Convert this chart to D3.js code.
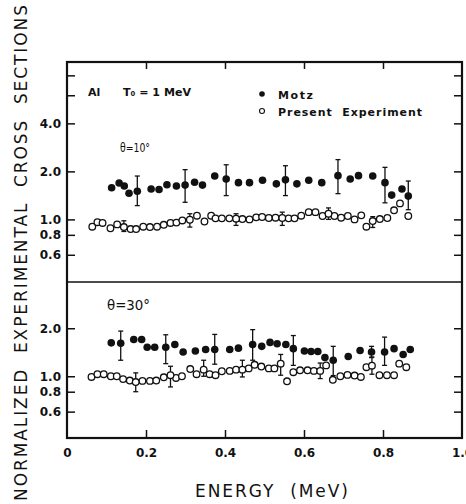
<!DOCTYPE html>
<html>
<head>
<meta charset="utf-8">
<script src="https://cdn.jsdelivr.net/npm/d3@7"></script>
<style>
  body { margin: 0; background: #fff; }
  svg { display: block; }
  text { font-family: "DejaVu Sans", sans-serif; fill: #111; }
</style>
</head>
<body>
<svg id="chart" width="466" height="504"></svg>
<script>
// energy (MeV), normalized cross section
var motz10 = [[0.113,1.58],[0.132,1.69],[0.145,1.62],[0.157,1.46],[0.213,1.55],[0.233,1.54],[0.253,1.65],
  [0.277,1.62],[0.323,1.71],[0.343,1.64],[0.374,1.87],[0.434,1.70],[0.462,1.70],[0.495,1.76],[0.530,1.67],
  [0.582,1.67],[0.612,1.76],[0.645,1.70],[0.717,1.79],[0.738,1.88],[0.774,1.87],[0.822,1.42],[0.848,1.55]];
// energy, value, low, high
var motz10Err = [[0.178,1.50,1.22,1.87],[0.299,1.64,1.28,2.05],[0.403,1.79,1.41,2.20],[0.553,1.77,1.41,2.17],
  [0.686,1.88,1.45,2.37],[0.805,1.70,1.27,2.12],[0.864,1.40,1.15,1.74]];
var exp10 = [[0.064,0.90],[0.077,0.96],[0.090,0.95],[0.110,0.88],[0.127,0.93],[0.161,0.87],[0.175,0.87],
  [0.193,0.90],[0.210,0.895],[0.228,0.90],[0.245,0.925],[0.262,0.95],[0.277,0.955],[0.292,0.985],[0.329,1.055],
  [0.348,0.97],[0.365,1.055],[0.376,1.015],[0.392,1.015],[0.411,1.015],[0.444,1.005],[0.462,1.00],[0.479,1.03],
  [0.494,1.035],[0.511,1.02],[0.528,1.025],[0.561,1.015],[0.576,1.015],[0.593,1.055],[0.612,1.11],[0.629,1.11],
  [0.647,1.05],[0.677,1.05],[0.694,1.025],[0.711,1.05],[0.728,1.00],[0.745,1.06],[0.758,0.90],[0.792,1.005],
  [0.811,1.02],[0.828,1.14],[0.843,1.26],[0.864,1.05]];
var exp10Err = [[0.144,0.895,0.84,0.98],[0.311,0.995,0.895,1.085],[0.428,1.01,0.917,1.085],
  [0.545,1.02,0.917,1.11],[0.662,1.085,1.0,1.18],[0.774,0.976,0.89,1.04]];

var motz30 = [[0.112,1.62],[0.169,1.70],[0.189,1.70],[0.203,1.52],[0.222,1.52],[0.273,1.58],[0.294,1.42],
  [0.325,1.44],[0.351,1.47],[0.412,1.47],[0.434,1.50],[0.493,1.54],[0.514,1.63],[0.532,1.60],[0.554,1.58],
  [0.601,1.44],[0.618,1.43],[0.635,1.43],[0.653,1.31],[0.712,1.33],[0.742,1.45],[0.828,1.49],[0.851,1.37],
  [0.869,1.47]];
var motz30Err = [[0.136,1.61,1.26,1.92],[0.250,1.52,1.20,1.82],[0.374,1.47,1.19,1.83],[0.470,1.58,1.26,1.96],
  [0.573,1.49,1.17,1.80],[0.674,1.26,1.01,1.54],[0.771,1.42,1.31,1.54],[0.804,1.42,1.17,1.76]];
var exp30 = [[0.062,0.99],[0.077,1.03],[0.093,1.03],[0.111,1.00],[0.126,1.00],[0.142,0.96],[0.159,0.94],
  [0.191,0.935],[0.210,0.935],[0.226,0.94],[0.245,0.985],[0.276,0.976],[0.291,1.00],[0.312,1.11],[0.328,1.03],
  [0.361,1.03],[0.376,1.015],[0.392,1.075],[0.412,1.08],[0.428,1.10],[0.460,1.12],[0.475,1.18],[0.492,1.15],
  [0.511,1.12],[0.525,1.12],[0.557,0.93],[0.573,1.06],[0.590,1.09],[0.609,1.09],[0.625,1.08],[0.656,1.17],
  [0.673,0.95],[0.692,1.00],[0.710,1.02],[0.728,1.01],[0.744,0.99],[0.758,1.14],[0.791,1.015],[0.810,1.015],
  [0.828,1.015],[0.841,1.20],[0.859,1.14]];
var exp30Err = [[0.174,0.92,0.80,1.05],[0.262,1.015,0.857,1.155],[0.346,1.10,1.00,1.26],[0.444,1.10,0.99,1.26],
  [0.541,1.20,1.015,1.37],[0.641,1.08,0.967,1.21],[0.772,1.165,1.03,1.32]];

var xTicks = [0, 0.2, 0.4, 0.6, 0.8, 1.0];
var yTicks = [0.6, 0.8, 1, 2, 4, 6, 8];
var yLabels = {0.6: "0.6", 0.8: "0.8", 1: "1.0", 2: "2.0", 4: "4.0"};

var svg = d3.select("#chart");
var fLeft = 67, fRight = 462, fTop = 62, fMid = 282, fBottom = 438;

var x = d3.scaleLinear().domain([0, 1]).range([fLeft, fRight]);
var yTop = d3.scaleLog().domain([0.405, 9.7]).range([fMid, fTop]);
var yBot = d3.scaleLog().domain([0.41, 3.9]).range([fBottom, fMid]);

function drawPanel(y, motz, motzErr, exp, expErr, ticks) {
  var g = svg.append("g");

  g.append("g")
   .attr("transform", "translate(" + fLeft + ",0)")
   .call(d3.axisLeft(y).tickValues(ticks).tickSizeInner(-8).tickSizeOuter(0).tickPadding(6)
     .tickFormat(function(d) { return yLabels[d] || ""; }))
   .call(function(a) { a.select(".domain").remove(); })
   .selectAll("text").attr("font-size", 12).attr("font-weight", "bold");

  g.append("g")
   .attr("transform", "translate(" + fRight + ",0)")
   .call(d3.axisRight(y).tickValues(ticks).tickSizeInner(-8).tickSizeOuter(0).tickFormat(""))
   .call(function(a) { a.select(".domain").remove(); });

  var errs = motzErr.concat(expErr);
  var eb = g.selectAll(".err").data(errs).enter().append("g").attr("class", "err");
  eb.append("line")
    .attr("x1", function(d) { return x(d[0]); }).attr("x2", function(d) { return x(d[0]); })
    .attr("y1", function(d) { return y(d[2]); }).attr("y2", function(d) { return y(d[3]); });
  eb.append("line")
    .attr("x1", function(d) { return x(d[0]) - 2.5; }).attr("x2", function(d) { return x(d[0]) + 2.5; })
    .attr("y1", function(d) { return y(d[2]); }).attr("y2", function(d) { return y(d[2]); });
  eb.append("line")
    .attr("x1", function(d) { return x(d[0]) - 2.5; }).attr("x2", function(d) { return x(d[0]) + 2.5; })
    .attr("y1", function(d) { return y(d[3]); }).attr("y2", function(d) { return y(d[3]); });
  eb.selectAll("line").attr("stroke", "#111").attr("stroke-width", 1.3);

  g.selectAll(".open").data(exp.concat(expErr)).enter().append("circle")
   .attr("cx", function(d) { return x(d[0]); })
   .attr("cy", function(d) { return y(d[1]); })
   .attr("r", 3.3)
   .attr("fill", "#fff").attr("stroke", "#111").attr("stroke-width", 1.3);

  g.selectAll(".filled").data(motz.concat(motzErr)).enter().append("circle")
   .attr("cx", function(d) { return x(d[0]); })
   .attr("cy", function(d) { return y(d[1]); })
   .attr("r", 3.8)
   .attr("fill", "#111");
}

drawPanel(yTop, motz10, motz10Err, exp10, exp10Err, yTicks);
drawPanel(yBot, motz30, motz30Err, exp30, exp30Err, yTicks.slice(0, 4));

// x axes: ticks on top frame and bottom frame
svg.append("g")
   .attr("transform", "translate(0," + fTop + ")")
   .call(d3.axisTop(x).tickValues([0.2, 0.4, 0.6, 0.8]).tickSizeInner(-7).tickSizeOuter(0).tickFormat(""))
   .call(function(a) { a.select(".domain").remove(); });

svg.append("g")
   .attr("transform", "translate(0," + fBottom + ")")
   .call(d3.axisBottom(x).tickValues(xTicks).tickSizeInner(-8).tickSizeOuter(0).tickPadding(10)
     .tickFormat(function(d) { return d === 0 ? "0" : d3.format(".1f")(d); }))
   .call(function(a) { a.select(".domain").remove(); })
   .call(function(a) {
     a.selectAll("line").filter(function(d) { return d === 0 || d === 1; }).remove();
     a.selectAll("text").attr("font-size", 12).attr("font-weight", "bold");
   });

svg.selectAll(".tick line").attr("stroke", "#111").attr("stroke-width", 1.5);

// frame
svg.append("rect")
   .attr("x", fLeft).attr("y", fTop)
   .attr("width", fRight - fLeft).attr("height", fBottom - fTop)
   .attr("fill", "none").attr("stroke", "#111").attr("stroke-width", 2.2);
svg.append("line")
   .attr("x1", fLeft).attr("x2", fRight).attr("y1", fMid).attr("y2", fMid)
   .attr("stroke", "#111").attr("stroke-width", 1.6);

// labels
svg.append("text").attr("x", 88).attr("y", 96).attr("font-size", 11).attr("font-weight", "bold").text("Al");
svg.append("text").attr("x", 123).attr("y", 96).attr("font-size", 11).attr("font-weight", "bold")
   .attr("textLength", 68).attr("lengthAdjust", "spacingAndGlyphs").text("T₀ = 1 MeV");

svg.append("circle").attr("cx", 262).attr("cy", 94).attr("r", 2.8).attr("fill", "#111");
svg.append("circle").attr("cx", 262).attr("cy", 111).attr("r", 2.5)
   .attr("fill", "#fff").attr("stroke", "#111").attr("stroke-width", 1.1);
svg.append("text").attr("x", 278).attr("y", 99).attr("font-size", 11).attr("font-weight", "bold")
   .attr("textLength", 35).text("Motz");
svg.append("text").attr("x", 278).attr("y", 116).attr("font-size", 11).attr("font-weight", "bold")
   .attr("textLength", 144).attr("style", "white-space:pre").text("Present  Experiment");

svg.append("text").attr("x", 120).attr("y", 152).attr("font-size", 12.5)
   .attr("textLength", 30).attr("lengthAdjust", "spacingAndGlyphs").text("θ=10°");
svg.append("text").attr("x", 107).attr("y", 310).attr("font-size", 14)
   .attr("textLength", 43).attr("lengthAdjust", "spacingAndGlyphs").text("θ=30°");

svg.append("text")
   .attr("x", 195).attr("y", 497).attr("font-size", 17)
   .attr("textLength", 153).attr("style", "white-space:pre")
   .text("ENERGY  (MeV)");

svg.append("text")
   .attr("transform", "translate(27,253) rotate(-90)")
   .attr("text-anchor", "middle")
   .attr("font-size", 17)
   .attr("textLength", 496).attr("style", "white-space:pre")
   .text("NORMALIZED  EXPERIMENTAL  CROSS  SECTIONS");
</script>
</body>
</html>
